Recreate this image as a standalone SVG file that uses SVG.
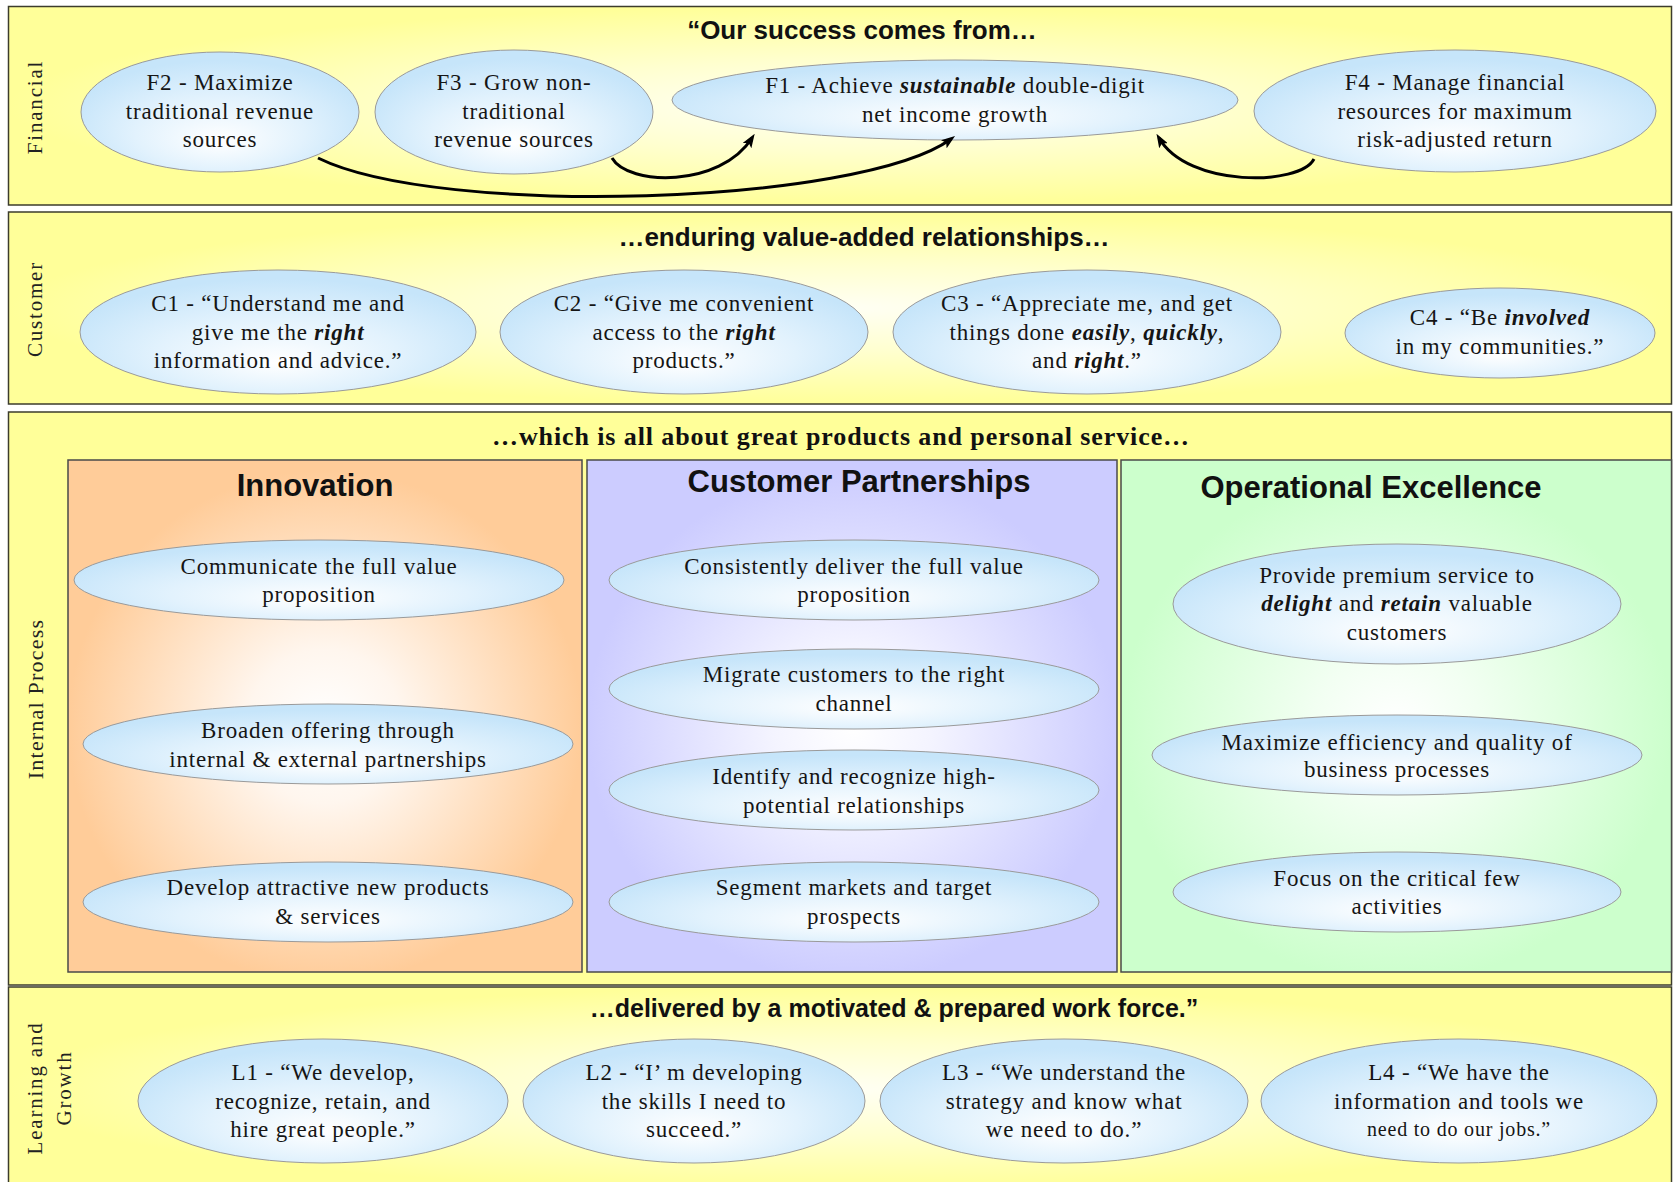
<svg xmlns="http://www.w3.org/2000/svg" width="1673" height="1182" viewBox="0 0 1673 1182">
  <defs>
    <style>
      .band { stroke: #3c3c2c; stroke-width: 1.5; }
      .panel { stroke: #4a4a4a; stroke-width: 1.5; }
      .side { font-family: "Liberation Serif", "DejaVu Serif", serif; font-size: 21px; letter-spacing: 1.8px; fill: #222; text-anchor: middle; }
      .head { font-family: "Liberation Sans", Arial, sans-serif; font-weight: bold; font-size: 26px; fill: #111; text-anchor: middle; }
      .head-serif { font-family: "Liberation Serif", "DejaVu Serif", serif; font-weight: bold; font-size: 26px; letter-spacing: 0.9px; fill: #111; text-anchor: middle; }
      .ptitle { font-family: "Liberation Sans", Arial, sans-serif; font-weight: bold; font-size: 31px; fill: #111; text-anchor: middle; }
      .node ellipse { fill: url(#gNode); stroke: #9a9a9a; stroke-width: 1; }
      .node text { font-family: "Liberation Serif", "DejaVu Serif", serif; font-size: 23px; letter-spacing: 0.8px; fill: #151515; text-anchor: middle; }
      .em { font-weight: bold; font-style: italic; }
      .conn { fill: none; stroke: #000; stroke-width: 3; }
    </style>
    <radialGradient id="gBand" cx="0.5" cy="0.5" r="0.5">
      <stop offset="0" stop-color="#FFFFF4"/>
      <stop offset="0.45" stop-color="#FFFFCF"/>
      <stop offset="1" stop-color="#FFFF99"/>
    </radialGradient>
    <radialGradient id="gOrange" cx="0.5" cy="0.52" r="0.5">
      <stop offset="0" stop-color="#FFFFFF"/>
      <stop offset="0.3" stop-color="#FFF6EE"/>
      <stop offset="1" stop-color="#FFCC99"/>
    </radialGradient>
    <radialGradient id="gLilac" cx="0.5" cy="0.52" r="0.5">
      <stop offset="0" stop-color="#FFFFFF"/>
      <stop offset="0.3" stop-color="#F4F4FF"/>
      <stop offset="1" stop-color="#CCCCFF"/>
    </radialGradient>
    <radialGradient id="gGreen" cx="0.5" cy="0.52" r="0.5">
      <stop offset="0" stop-color="#FFFFFF"/>
      <stop offset="0.3" stop-color="#F2FFF2"/>
      <stop offset="1" stop-color="#CCFFCC"/>
    </radialGradient>
    <radialGradient id="gNode" cx="0.5" cy="0.62" r="0.55" fx="0.5" fy="0.75">
      <stop offset="0" stop-color="#FFFFFF"/>
      <stop offset="0.55" stop-color="#E2F2FD"/>
      <stop offset="1" stop-color="#C6E5FA"/>
    </radialGradient>
    <marker id="arr" viewBox="0 0 14 10" refX="9" refY="5" markerWidth="14" markerHeight="10" markerUnits="userSpaceOnUse" orient="auto">
      <path d="M0,0 L14,5 L0,10 L3,5 z" fill="#000"/>
    </marker>
  </defs>

  <rect width="1673" height="1182" fill="#FFFFFF"/>

  <!-- perspective bands -->
  <g id="bands">
    <rect class="band" x="8.5" y="6.5" width="1663" height="198.5" fill="url(#gBand)"/>
    <rect class="band" x="8.5" y="212" width="1663" height="192" fill="url(#gBand)"/>
    <rect class="band" x="8.5" y="412" width="1663" height="573" fill="#FFFF99"/>
    <rect class="band" x="8.5" y="987" width="1663" height="205" fill="url(#gBand)"/>

    <text class="head" x="862" y="39">“Our success comes from…</text>
    <text class="head" x="864" y="246">…enduring value-added relationships…</text>
    <text class="head-serif" x="841" y="445">…which is all about great products and personal service…</text>
    <text class="head" style="font-size:25px" x="894" y="1017">…delivered by a motivated &amp; prepared work force.”</text>

    <text class="side" transform="translate(42,107) rotate(-90)">Financial</text>
    <text class="side" transform="translate(42,309) rotate(-90)">Customer</text>
    <text class="side" style="letter-spacing:1.2px;font-size:22px" transform="translate(43,699) rotate(-90)">Internal Process</text>
    <text class="side" transform="translate(42,1088) rotate(-90)">Learning and</text>
    <text class="side" transform="translate(71,1088) rotate(-90)">Growth</text>
  </g>

  <!-- internal process themes -->
  <g id="panels">
    <rect class="panel" x="68" y="460" width="514" height="512" fill="url(#gOrange)"/>
    <rect class="panel" x="587" y="460" width="530" height="512" fill="url(#gLilac)"/>
    <rect class="panel" x="1121" y="460" width="550.5" height="512" fill="url(#gGreen)"/>
    <text class="ptitle" x="315" y="496">Innovation</text>
    <text class="ptitle" x="859" y="492">Customer Partnerships</text>
    <text class="ptitle" x="1371" y="498">Operational Excellence</text>
  </g>

  <g id="nodes">
    <!-- Financial -->
    <g id="F2" class="node">
      <ellipse cx="220" cy="112" rx="139" ry="60"/>
      <text x="220" y="90">F2 - Maximize</text>
      <text x="220" y="119">traditional revenue</text>
      <text x="220" y="147">sources</text>
    </g>
    <g id="F3" class="node">
      <ellipse cx="514" cy="112" rx="139" ry="62"/>
      <text x="514" y="90">F3 - Grow non-</text>
      <text x="514" y="119">traditional</text>
      <text x="514" y="147">revenue sources</text>
    </g>
    <g id="F1" class="node">
      <ellipse cx="955" cy="100" rx="283" ry="40"/>
      <text x="955" y="93">F1 - Achieve <tspan class="em">sustainable</tspan> double-digit</text>
      <text x="955" y="122">net income growth</text>
    </g>
    <g id="F4" class="node">
      <ellipse cx="1455" cy="111" rx="201" ry="61"/>
      <text x="1455" y="90">F4 - Manage financial</text>
      <text x="1455" y="119">resources for maximum</text>
      <text x="1455" y="147">risk-adjusted return</text>
    </g>

    <!-- Customer -->
    <g id="C1" class="node">
      <ellipse cx="278" cy="332" rx="198" ry="62"/>
      <text x="278" y="311">C1 - “Understand me and</text>
      <text x="278" y="340">give me the <tspan class="em">right</tspan></text>
      <text x="278" y="368">information and advice.”</text>
    </g>
    <g id="C2" class="node">
      <ellipse cx="684" cy="332" rx="184" ry="62"/>
      <text x="684" y="311">C2 - “Give me convenient</text>
      <text x="684" y="340">access to the <tspan class="em">right</tspan></text>
      <text x="684" y="368">products.”</text>
    </g>
    <g id="C3" class="node">
      <ellipse cx="1087" cy="332" rx="194" ry="62"/>
      <text x="1087" y="311">C3 - “Appreciate me, and get</text>
      <text x="1087" y="340">things done <tspan class="em">easily</tspan>, <tspan class="em">quickly</tspan>,</text>
      <text x="1087" y="368">and <tspan class="em">right</tspan>.”</text>
    </g>
    <g id="C4" class="node">
      <ellipse cx="1500" cy="333" rx="155" ry="45"/>
      <text x="1500" y="325">C4 - “Be <tspan class="em">involved</tspan></text>
      <text x="1500" y="354">in my communities.”</text>
    </g>

    <!-- Innovation -->
    <g id="I1" class="node">
      <ellipse cx="319" cy="580" rx="245" ry="40"/>
      <text x="319" y="574">Communicate the full value</text>
      <text x="319" y="602">proposition</text>
    </g>
    <g id="I2" class="node">
      <ellipse cx="328" cy="744" rx="245" ry="40"/>
      <text x="328" y="738">Broaden offering through</text>
      <text x="328" y="767">internal &amp; external partnerships</text>
    </g>
    <g id="I3" class="node">
      <ellipse cx="328" cy="902" rx="245" ry="40"/>
      <text x="328" y="895">Develop attractive new products</text>
      <text x="328" y="924">&amp; services</text>
    </g>

    <!-- Customer Partnerships -->
    <g id="P1" class="node">
      <ellipse cx="854" cy="580" rx="245" ry="40"/>
      <text x="854" y="574">Consistently deliver the full value</text>
      <text x="854" y="602">proposition</text>
    </g>
    <g id="P2" class="node">
      <ellipse cx="854" cy="689" rx="245" ry="40"/>
      <text x="854" y="682">Migrate customers to the right</text>
      <text x="854" y="711">channel</text>
    </g>
    <g id="P3" class="node">
      <ellipse cx="854" cy="790" rx="245" ry="40"/>
      <text x="854" y="784">Identify and recognize high-</text>
      <text x="854" y="813">potential relationships</text>
    </g>
    <g id="P4" class="node">
      <ellipse cx="854" cy="902" rx="245" ry="40"/>
      <text x="854" y="895">Segment markets and target</text>
      <text x="854" y="924">prospects</text>
    </g>

    <!-- Operational Excellence -->
    <g id="O1" class="node">
      <ellipse cx="1397" cy="604" rx="224" ry="60"/>
      <text x="1397" y="583">Provide premium service to</text>
      <text x="1397" y="611"><tspan class="em">delight</tspan> and <tspan class="em">retain</tspan> valuable</text>
      <text x="1397" y="640">customers</text>
    </g>
    <g id="O2" class="node">
      <ellipse cx="1397" cy="755" rx="245" ry="40"/>
      <text x="1397" y="750">Maximize efficiency and quality of</text>
      <text x="1397" y="777">business processes</text>
    </g>
    <g id="O3" class="node">
      <ellipse cx="1397" cy="892" rx="224" ry="40"/>
      <text x="1397" y="886">Focus on the critical few</text>
      <text x="1397" y="914">activities</text>
    </g>

    <!-- Learning and Growth -->
    <g id="L1" class="node">
      <ellipse cx="323" cy="1101" rx="185" ry="62"/>
      <text x="323" y="1080">L1 - “We develop,</text>
      <text x="323" y="1109">recognize, retain, and</text>
      <text x="323" y="1137">hire great people.”</text>
    </g>
    <g id="L2" class="node">
      <ellipse cx="694" cy="1101" rx="171" ry="62"/>
      <text x="694" y="1080">L2 - “I’ m developing</text>
      <text x="694" y="1109">the skills I need to</text>
      <text x="694" y="1137">succeed.”</text>
    </g>
    <g id="L3" class="node">
      <ellipse cx="1064" cy="1101" rx="184" ry="62"/>
      <text x="1064" y="1080">L3 - “We understand the</text>
      <text x="1064" y="1109">strategy and know what</text>
      <text x="1064" y="1137">we need to do.”</text>
    </g>
    <g id="L4" class="node">
      <ellipse cx="1459" cy="1101" rx="198" ry="62"/>
      <text x="1459" y="1080">L4 - “We have the</text>
      <text x="1459" y="1109">information and tools we</text>
      <text x="1459" y="1136" style="font-size:20px">need to do our jobs.”</text>
    </g>
  </g>

  <!-- financial objectives feeding F1 -->
  <g id="connectors">
    <path class="conn" d="M318,158 C440,218 860,205 951,139" marker-end="url(#arr)"/>
    <path class="conn" d="M612,158 C628,186 720,188 752,138" marker-end="url(#arr)"/>
    <path class="conn" d="M1314,159 C1300,186 1188,188 1159,138" marker-end="url(#arr)"/>
  </g>
</svg>
